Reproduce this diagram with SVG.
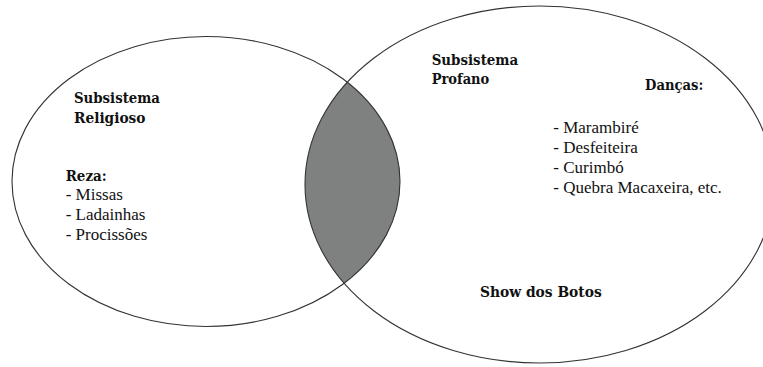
<svg xmlns="http://www.w3.org/2000/svg" width="763" height="367" viewBox="0 0 763 367">
  <style>
    .ring { fill: none; stroke: #333333; stroke-width: 1.1; }
    .head { font-family: "DejaVu Serif", "Liberation Serif", serif; font-weight: bold; font-size: 14px; fill: #111111; }
    .item { font-family: "Liberation Serif", "Times New Roman", serif; font-size: 17px; fill: #111111; }
  </style>
  <defs>
    <clipPath id="clipLeft">
      <ellipse cx="206" cy="181.5" rx="194" ry="145"/>
    </clipPath>
  </defs>
  <rect width="763" height="367" fill="#ffffff"/>

  <g id="intersection">
    <ellipse cx="539.5" cy="184.5" rx="234.5" ry="178.5" fill="#7f8181" clip-path="url(#clipLeft)"/>
  </g>

  <g id="subsistema-religioso">
    <ellipse class="ring" cx="206" cy="181.5" rx="194" ry="145"/>
    <text class="head" x="74" y="103" textLength="86" lengthAdjust="spacingAndGlyphs">Subsistema</text>
    <text class="head" x="74" y="123" textLength="71.5" lengthAdjust="spacingAndGlyphs">Religioso</text>
    <text class="head" x="65.7" y="181" textLength="41" lengthAdjust="spacingAndGlyphs">Reza:</text>
    <text class="item" x="65.7" y="200">- Missas</text>
    <text class="item" x="65.7" y="220">- Ladainhas</text>
    <text class="item" x="65.7" y="240">- Procissões</text>
  </g>

  <g id="subsistema-profano">
    <ellipse class="ring" cx="539.5" cy="184.5" rx="234.5" ry="178.5"/>
    <text class="head" x="431.7" y="64.5" textLength="86.5" lengthAdjust="spacingAndGlyphs">Subsistema</text>
    <text class="head" x="431.7" y="83.5" textLength="57.6" lengthAdjust="spacingAndGlyphs">Profano</text>
    <text class="head" x="645" y="89.5" textLength="58.3" lengthAdjust="spacingAndGlyphs">Danças:</text>
    <text class="item" x="553.3" y="133">- Marambiré</text>
    <text class="item" x="553.3" y="153">- Desfeiteira</text>
    <text class="item" x="553.3" y="173">- Curimbó</text>
    <text class="item" x="553.3" y="193">- Quebra Macaxeira, etc.</text>
    <text class="head" x="480" y="297" textLength="121.7" lengthAdjust="spacingAndGlyphs">Show dos Botos</text>
  </g>
</svg>
